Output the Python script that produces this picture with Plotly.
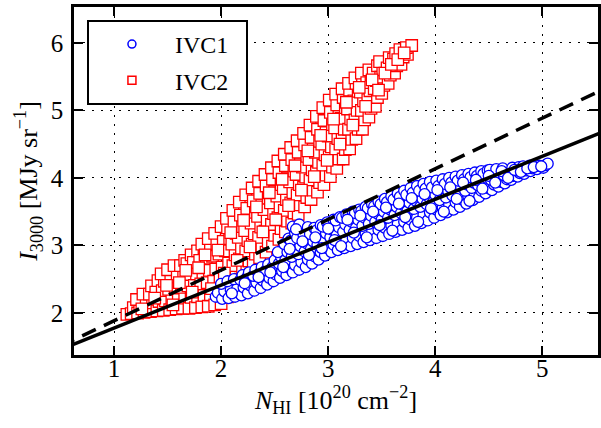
import plotly.graph_objects as go

# IVC1 (blue circles): (N_HI [1e20 cm^-2], I_3000 [MJy/sr])
ivc1_pts = [
    (1.95, 2.24), (1.97, 2.30),
    (2.01, 2.21), (2.03, 2.32), (2.00, 2.43),
    (2.07, 2.22), (2.09, 2.34), (2.06, 2.47),
    (2.13, 2.24), (2.15, 2.36), (2.12, 2.50),
    (2.19, 2.26), (2.21, 2.38), (2.18, 2.49), (2.20, 2.56),
    (2.25, 2.29), (2.27, 2.41), (2.24, 2.52), (2.26, 2.60),
    (2.31, 2.33), (2.33, 2.45), (2.30, 2.55), (2.32, 2.64),
    (2.37, 2.37), (2.39, 2.48), (2.36, 2.59), (2.38, 2.68),
    (2.43, 2.42), (2.45, 2.52), (2.42, 2.63), (2.44, 2.72),
    (2.49, 2.47), (2.51, 2.57), (2.48, 2.68), (2.50, 2.78),
    (2.55, 2.52), (2.57, 2.62), (2.54, 2.73), (2.56, 2.83), (2.53, 2.90),
    (2.61, 2.56), (2.63, 2.67), (2.60, 2.78), (2.62, 2.90), (2.59, 3.02), (2.63, 3.10),
    (2.67, 2.60), (2.69, 2.71), (2.66, 2.83), (2.68, 2.95), (2.65, 3.07), (2.69, 3.19), (2.67, 3.28),
    (2.73, 2.64), (2.75, 2.75), (2.72, 2.87), (2.74, 2.99), (2.71, 3.11), (2.75, 3.22), (2.73, 3.31),
    (2.79, 2.68), (2.81, 2.79), (2.78, 2.91), (2.80, 3.03), (2.77, 3.15), (2.81, 3.27),
    (2.85, 2.73), (2.87, 2.84), (2.84, 2.95), (2.86, 3.06), (2.83, 3.17), (2.87, 3.26),
    (2.91, 2.79), (2.93, 2.90), (2.90, 3.01), (2.92, 3.12), (2.89, 3.22), (2.93, 3.30),
    (2.97, 2.85), (2.99, 2.96), (2.96, 3.07), (2.98, 3.18), (2.95, 3.28), (2.99, 3.34),
    (3.03, 2.90), (3.05, 3.01), (3.02, 3.12), (3.04, 3.23), (3.01, 3.32), (3.05, 3.38),
    (3.09, 2.93), (3.11, 3.04), (3.08, 3.16), (3.10, 3.27), (3.07, 3.37), (3.11, 3.42),
    (3.15, 2.96), (3.17, 3.08), (3.14, 3.20), (3.16, 3.31), (3.13, 3.41), (3.17, 3.46),
    (3.21, 2.99), (3.23, 3.11), (3.20, 3.23), (3.22, 3.35), (3.19, 3.45), (3.23, 3.50),
    (3.27, 3.02), (3.29, 3.14), (3.26, 3.26), (3.28, 3.38), (3.25, 3.48), (3.29, 3.53),
    (3.33, 3.05), (3.35, 3.17), (3.32, 3.29), (3.34, 3.41), (3.31, 3.51), (3.35, 3.57),
    (3.39, 3.08), (3.41, 3.20), (3.38, 3.32), (3.40, 3.44), (3.37, 3.55), (3.41, 3.61),
    (3.45, 3.11), (3.47, 3.23), (3.44, 3.35), (3.46, 3.47), (3.43, 3.58), (3.47, 3.65),
    (3.51, 3.14), (3.53, 3.26), (3.50, 3.38), (3.52, 3.50), (3.49, 3.61), (3.53, 3.69),
    (3.57, 3.17), (3.59, 3.29), (3.56, 3.41), (3.58, 3.53), (3.55, 3.64), (3.59, 3.73),
    (3.63, 3.20), (3.65, 3.32), (3.62, 3.45), (3.64, 3.57), (3.61, 3.68), (3.65, 3.77),
    (3.69, 3.23), (3.71, 3.35), (3.68, 3.48), (3.70, 3.60), (3.67, 3.72), (3.71, 3.81),
    (3.75, 3.26), (3.77, 3.38), (3.74, 3.51), (3.76, 3.63), (3.73, 3.75), (3.77, 3.85),
    (3.81, 3.29), (3.83, 3.41), (3.80, 3.54), (3.82, 3.66), (3.79, 3.78), (3.83, 3.88),
    (3.87, 3.33), (3.89, 3.45), (3.86, 3.57), (3.88, 3.69), (3.85, 3.81), (3.89, 3.91),
    (3.93, 3.37), (3.95, 3.49), (3.92, 3.61), (3.94, 3.72), (3.91, 3.84), (3.95, 3.94),
    (3.99, 3.41), (4.01, 3.53), (3.98, 3.64), (4.00, 3.75), (3.97, 3.86), (4.01, 3.96),
    (4.05, 3.45), (4.07, 3.56), (4.04, 3.67), (4.06, 3.78), (4.03, 3.88), (4.07, 3.98),
    (4.11, 3.49), (4.13, 3.60), (4.10, 3.71), (4.12, 3.81), (4.09, 3.91), (4.13, 4.00),
    (4.17, 3.53), (4.19, 3.64), (4.16, 3.74), (4.18, 3.84), (4.15, 3.93), (4.19, 4.02),
    (4.23, 3.57), (4.25, 3.68), (4.22, 3.78), (4.24, 3.87), (4.21, 3.96), (4.25, 4.04),
    (4.29, 3.62), (4.31, 3.72), (4.28, 3.81), (4.30, 3.90), (4.27, 3.98), (4.31, 4.06),
    (4.35, 3.67), (4.37, 3.76), (4.34, 3.85), (4.36, 3.93), (4.33, 4.01), (4.37, 4.08),
    (4.41, 3.72), (4.43, 3.81), (4.40, 3.89), (4.42, 3.96), (4.39, 4.03), (4.43, 4.10),
    (4.47, 3.77), (4.49, 3.85), (4.46, 3.93), (4.48, 4.00), (4.45, 4.06), (4.49, 4.11),
    (4.53, 3.82), (4.55, 3.90), (4.52, 3.97), (4.54, 4.04), (4.51, 4.12),
    (4.59, 3.87), (4.61, 3.94), (4.58, 4.01), (4.60, 4.07), (4.57, 4.13),
    (4.65, 3.92), (4.67, 3.98), (4.64, 4.04), (4.66, 4.09), (4.63, 4.14),
    (4.71, 3.97), (4.73, 4.03), (4.70, 4.08), (4.72, 4.15),
    (4.77, 4.02), (4.79, 4.07), (4.76, 4.11), (4.78, 4.16),
    (4.83, 4.06), (4.85, 4.11), (4.82, 4.17),
    (4.89, 4.10), (4.91, 4.14), (4.88, 4.18),
    (4.95, 4.13), (4.97, 4.18),
    (5.01, 4.15), (5.03, 4.19),
    (5.05, 4.21),
    # between-row points
    (2.10, 2.29), (2.22, 2.44), (2.35, 2.53), (2.46, 2.60), (2.58, 2.68),
    (2.64, 2.95), (2.70, 3.24), (2.76, 3.06), (2.82, 2.86), (2.88, 3.12),
    (2.94, 2.96), (3.00, 3.25), (3.06, 3.08), (3.12, 2.99), (3.18, 3.38),
    (3.24, 3.19), (3.30, 3.44), (3.36, 3.12), (3.42, 3.50), (3.48, 3.30),
    (3.54, 3.56), (3.60, 3.22), (3.66, 3.62), (3.72, 3.42), (3.78, 3.70),
    (3.84, 3.35), (3.90, 3.76), (3.96, 3.55), (4.02, 3.82), (4.08, 3.50),
    (4.14, 3.86), (4.20, 3.69), (4.26, 3.93), (4.32, 3.66), (4.38, 3.97),
    (4.44, 3.84), (4.50, 4.03), (4.56, 3.93), (4.62, 4.10), (4.68, 4.00),
    (4.74, 4.12), (4.80, 4.09), (4.86, 4.14), (4.92, 4.16), (4.99, 4.17),
]

# IVC2 (red squares)
ivc2_pts = [
    (1.12, 1.98),
    (1.16, 1.99), (1.18, 2.08),
    (1.22, 2.00), (1.24, 2.12), (1.21, 2.20),
    (1.28, 2.01), (1.30, 2.14), (1.27, 2.28),
    (1.34, 2.02), (1.36, 2.15), (1.33, 2.28), (1.35, 2.40),
    (1.40, 2.03), (1.42, 2.17), (1.39, 2.31), (1.41, 2.48),
    (1.46, 2.04), (1.48, 2.18), (1.45, 2.33), (1.47, 2.47), (1.44, 2.58),
    (1.52, 2.05), (1.54, 2.20), (1.51, 2.35), (1.53, 2.50), (1.50, 2.64),
    (1.58, 2.06), (1.60, 2.21), (1.57, 2.37), (1.59, 2.53), (1.56, 2.70),
    (1.64, 2.07), (1.66, 2.22), (1.63, 2.38), (1.65, 2.55), (1.62, 2.70), (1.66, 2.78),
    (1.70, 2.07), (1.72, 2.23), (1.69, 2.40), (1.71, 2.57), (1.68, 2.73), (1.72, 2.86),
    (1.76, 2.08), (1.78, 2.24), (1.75, 2.41), (1.77, 2.58), (1.74, 2.75), (1.78, 2.92),
    (1.82, 2.09), (1.84, 2.26), (1.81, 2.43), (1.83, 2.60), (1.80, 2.78), (1.84, 2.96), (1.82, 3.02),
    (1.88, 2.10), (1.90, 2.27), (1.87, 2.45), (1.89, 2.63), (1.86, 2.81), (1.90, 2.98), (1.88, 3.10),
    (1.94, 2.12), (1.96, 2.29), (1.93, 2.47), (1.95, 2.65), (1.92, 2.84), (1.96, 3.02), (1.94, 3.18),
    (2.00, 2.14), (2.02, 2.31), (1.99, 2.50), (2.01, 2.68), (1.98, 2.87), (2.02, 3.06), (2.00, 3.28),
    (2.06, 2.24), (2.08, 2.40), (2.05, 2.57), (2.07, 2.74), (2.04, 2.92), (2.08, 3.10), (2.06, 3.26), (2.05, 3.40),
    (2.12, 2.38), (2.14, 2.54), (2.11, 2.70), (2.13, 2.86), (2.10, 3.02), (2.14, 3.18), (2.12, 3.35), (2.11, 3.52),
    (2.18, 2.50), (2.20, 2.65), (2.17, 2.80), (2.19, 2.96), (2.16, 3.12), (2.20, 3.28), (2.18, 3.45), (2.17, 3.64),
    (2.24, 2.62), (2.26, 2.77), (2.23, 2.92), (2.25, 3.07), (2.22, 3.22), (2.26, 3.38), (2.24, 3.55), (2.23, 3.75),
    (2.30, 2.72), (2.32, 2.87), (2.29, 3.02), (2.31, 3.17), (2.28, 3.33), (2.32, 3.49), (2.30, 3.66), (2.29, 3.85),
    (2.36, 2.82), (2.38, 2.97), (2.35, 3.12), (2.37, 3.27), (2.34, 3.43), (2.38, 3.60), (2.36, 3.77), (2.35, 3.95),
    (2.42, 2.90), (2.44, 3.05), (2.41, 3.21), (2.43, 3.37), (2.40, 3.53), (2.44, 3.70), (2.42, 3.88), (2.41, 4.05),
    (2.48, 2.99), (2.50, 3.15), (2.47, 3.31), (2.49, 3.47), (2.46, 3.63), (2.50, 3.80), (2.48, 3.98), (2.47, 4.15),
    (2.54, 3.09), (2.56, 3.25), (2.53, 3.41), (2.55, 3.57), (2.52, 3.73), (2.56, 3.90), (2.54, 4.08), (2.53, 4.25),
    (2.60, 3.20), (2.62, 3.36), (2.59, 3.52), (2.61, 3.68), (2.58, 3.84), (2.62, 4.00), (2.60, 4.18), (2.59, 4.35),
    (2.66, 3.33), (2.68, 3.48), (2.65, 3.63), (2.67, 3.78), (2.64, 3.94), (2.68, 4.10), (2.66, 4.27), (2.65, 4.45),
    (2.72, 3.46), (2.74, 3.60), (2.71, 3.75), (2.73, 3.90), (2.70, 4.05), (2.74, 4.21), (2.72, 4.38), (2.71, 4.55),
    (2.78, 3.57), (2.80, 3.71), (2.77, 3.86), (2.79, 4.01), (2.76, 4.16), (2.80, 4.32), (2.78, 4.49), (2.77, 4.66),
    (2.84, 3.68), (2.86, 3.82), (2.83, 3.97), (2.85, 4.12), (2.82, 4.27), (2.86, 4.43), (2.84, 4.60), (2.83, 4.78),
    (2.90, 3.79), (2.92, 3.93), (2.89, 4.08), (2.91, 4.23), (2.88, 4.38), (2.92, 4.54), (2.90, 4.72), (2.89, 4.91),
    (2.96, 3.90), (2.98, 4.04), (2.95, 4.19), (2.97, 4.34), (2.94, 4.50), (2.98, 4.67), (2.96, 4.85), (2.95, 5.04),
    (3.02, 4.02), (3.04, 4.16), (3.01, 4.31), (3.03, 4.46), (3.00, 4.62), (3.04, 4.79), (3.02, 4.97), (3.01, 5.15),
    (3.08, 4.14), (3.10, 4.28), (3.07, 4.43), (3.09, 4.58), (3.06, 4.74), (3.10, 4.91), (3.08, 5.08), (3.07, 5.24),
    (3.14, 4.28), (3.16, 4.42), (3.13, 4.57), (3.15, 4.72), (3.12, 4.88), (3.16, 5.04), (3.14, 5.19), (3.13, 5.32),
    (3.20, 4.43), (3.22, 4.57), (3.19, 4.72), (3.21, 4.87), (3.18, 5.02), (3.22, 5.17), (3.20, 5.30), (3.19, 5.40),
    (3.26, 4.58), (3.28, 4.72), (3.25, 4.86), (3.27, 5.00), (3.24, 5.14), (3.28, 5.28), (3.26, 5.40), (3.25, 5.48),
    (3.32, 4.72), (3.34, 4.86), (3.31, 5.00), (3.33, 5.14), (3.30, 5.27), (3.34, 5.39), (3.32, 5.50), (3.31, 5.55),
    (3.38, 4.90), (3.40, 5.03), (3.37, 5.16), (3.39, 5.29), (3.36, 5.41), (3.40, 5.52), (3.38, 5.60),
    (3.44, 5.06), (3.46, 5.19), (3.43, 5.32), (3.45, 5.44), (3.42, 5.55), (3.46, 5.66),
    (3.50, 5.25), (3.52, 5.37), (3.49, 5.49), (3.51, 5.60), (3.48, 5.72),
    (3.56, 5.40), (3.58, 5.52), (3.55, 5.63), (3.57, 5.78),
    (3.62, 5.55), (3.64, 5.66), (3.61, 5.76), (3.63, 5.84),
    (3.68, 5.68), (3.70, 5.79), (3.67, 5.90),
    (3.74, 5.83), (3.73, 5.93),
    (3.78, 5.96),
    # between-row points
    (1.26, 2.06), (1.38, 2.22), (1.49, 2.41), (1.55, 2.12), (1.61, 2.45),
    (1.67, 2.63), (1.73, 2.31), (1.79, 2.67), (1.85, 2.86), (1.91, 2.36),
    (1.97, 2.93), (2.03, 2.59), (2.09, 3.19), (2.15, 2.78), (2.21, 3.37),
    (2.27, 2.98), (2.33, 3.57), (2.39, 3.20), (2.45, 3.78), (2.51, 3.38),
    (2.57, 3.98), (2.63, 3.59), (2.69, 4.18), (2.75, 3.82), (2.81, 4.40),
    (2.87, 4.02), (2.93, 4.63), (2.99, 4.26), (3.05, 4.87), (3.11, 4.50),
    (3.17, 5.12), (3.23, 4.78), (3.29, 5.34), (3.35, 5.06), (3.41, 5.45),
    (3.47, 5.30), (3.53, 5.55), (3.59, 5.68), (3.65, 5.75), (3.71, 5.85),
]

# Linear fits: I = slope * N + offset
fit_x = [0.5, 5.6]
solid_fit = (0.636, 1.140)
dashed_fit = (0.750, 1.135)

x_ticks = [1, 2, 3, 4, 5]
y_ticks = [2, 3, 4, 5, 6]
x_range = [0.626, 5.52]
y_range = [1.378, 6.53]

FONT = "Liberation Serif, Times New Roman, serif"

ivc1_x = [p[0] for p in ivc1_pts]
ivc1_y = [p[1] for p in ivc1_pts]
ivc2_x = [p[0] for p in ivc2_pts]
ivc2_y = [p[1] for p in ivc2_pts]

fig = go.Figure()

fig.add_trace(go.Scatter(
    x=ivc2_x, y=ivc2_y, mode="markers", showlegend=False,
    marker=dict(symbol="square", size=11.5, color="white",
                line=dict(color="#ff0000", width=1.3)),
))
fig.add_trace(go.Scatter(
    x=ivc1_x, y=ivc1_y, mode="markers", showlegend=False,
    marker=dict(symbol="circle", size=11, color="white",
                line=dict(color="#0000ff", width=1.3)),
))

for (slope, off), dash in [(solid_fit, "solid"), (dashed_fit, "15px,9px")]:
    fig.add_trace(go.Scatter(
        x=fit_x, y=[slope * v + off for v in fit_x], mode="lines",
        showlegend=False, line=dict(color="black", width=3.5, dash=dash),
    ))

PAD = "\u00a0\u00a0"
# legend entries
fig.add_trace(go.Scatter(
    x=[None], y=[None], mode="markers", name="IVC1" + PAD, legendgroup="a",
    marker=dict(symbol="circle", size=8, color="white",
                line=dict(color="#0000ff", width=1.5)),
))
fig.add_trace(go.Scatter(
    x=[None], y=[None], mode="markers", name="IVC2" + PAD, legendgroup="b",
    marker=dict(symbol="square", size=8, color="white",
                line=dict(color="#ff0000", width=1.5)),
))

axis_common = dict(
    ticks="inside", ticklen=9, tickwidth=1.5, tickcolor="black",
    showline=True, linewidth=2.5, linecolor="black", mirror="ticks",
    showgrid=True, gridcolor="black", gridwidth=1, griddash="2px,7px",
    zeroline=False, tickfont=dict(family=FONT, size=25, color="black"),
)

fig.update_xaxes(
    range=x_range, tickvals=x_ticks, ticktext=[str(v) for v in x_ticks],
    ticklabelstandoff=-11,
    title=dict(text="<i>N</i><sub>HI</sub> [10<sup>20</sup> cm<sup>−2</sup>]",
               font=dict(family=FONT, size=26, color="black"), standoff=4),
    **axis_common,
)
fig.update_yaxes(
    range=y_range, tickvals=y_ticks, ticktext=[str(v) for v in y_ticks],
    ticklabelstandoff=3,
    title=dict(text="<i>I</i><sub>3000</sub> [MJy sr<sup>−1</sup>]",
               font=dict(family=FONT, size=26, color="black"), standoff=6),
    **axis_common,
)

fig.update_layout(
    width=601, height=428,
    margin=dict(l=74, r=0, t=7, b=73),
    plot_bgcolor="white", paper_bgcolor="white",
    font=dict(family=FONT, size=25, color="black"),
    legend=dict(
        x=0.0247, y=0.9626, xanchor="left", yanchor="top",
        bordercolor="black", borderwidth=2, bgcolor="white",
        font=dict(family=FONT, size=24, color="black"),
        itemwidth=76, traceorder="grouped", tracegroupgap=2,
    ),
)

fig.write_html("out.html")
